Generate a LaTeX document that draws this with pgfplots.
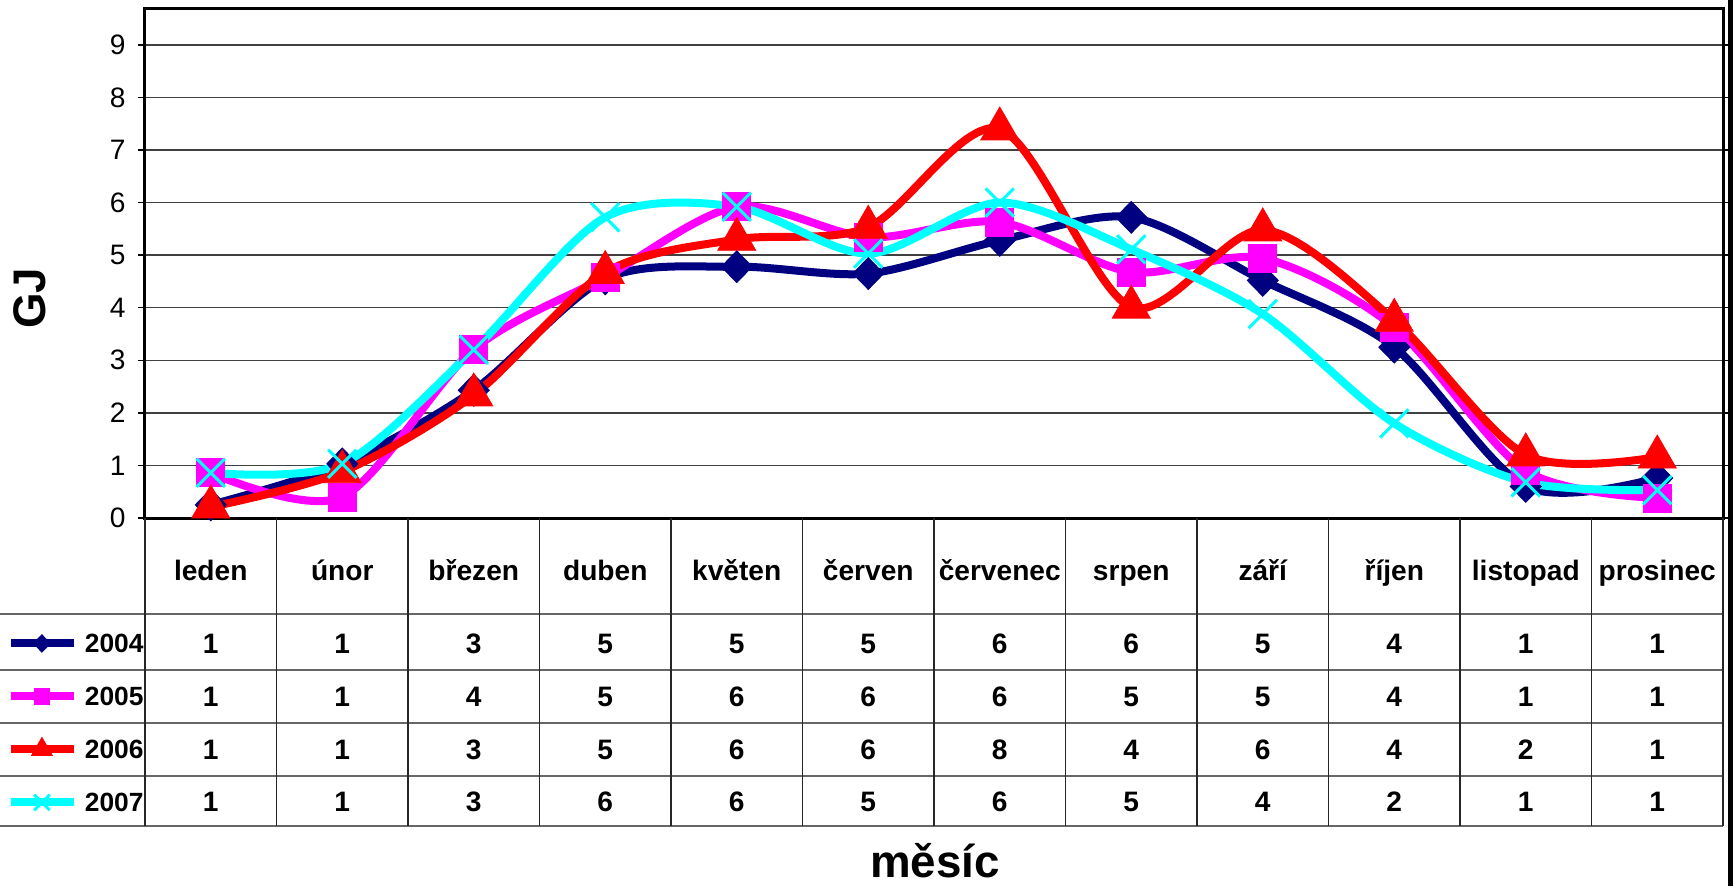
\documentclass[border=0pt]{standalone}
\usepackage{fontspec}
\setmainfont{Liberation Sans}
\usepackage{pgfplots}
\usepackage{pgfplotstable}
\pgfplotsset{compat=1.18}

\definecolor{c2004}{RGB}{0,0,128}
\definecolor{c2005}{RGB}{255,0,255}
\definecolor{c2006}{RGB}{255,0,0}
\definecolor{c2007}{RGB}{0,255,255}

% month index, GJ per year
\pgfplotstableread{
m  y2004 y2005 y2006 y2007
0  0.25  0.86  0.21  0.86
1  1.03  0.40  0.88  1.03
2  2.43  3.21  2.34  3.20
3  4.55  4.58  4.67  5.72
4  4.78  5.92  5.30  5.92
5  4.65  5.34  5.53  5.03
6  5.28  5.63  7.40  6.00
7  5.72  4.68  4.01  5.11
8  4.52  4.94  5.48  3.88
9  3.25  3.63  3.76  1.80
10 0.60  0.90  1.20  0.68
11 0.76  0.38  1.16  0.53
}\gjdata

\begin{document}
\begin{tikzpicture}
\useasboundingbox (0,0) rectangle (173.3mm,-88.6mm);
\begin{axis}[
    at={(14.5mm,-51.8mm)}, anchor=south west,
    scale only axis, width=157.8mm, height=51mm,
    xmin=-0.5, xmax=11.5, ymin=0, ymax=9.7,
    xtick={0,...,11},
    xticklabels={leden,únor,březen,duben,květen,červen,červenec,srpen,září,říjen,listopad,prosinec},
    x tick style={draw=none},
    xticklabel style={font=\bfseries\fontsize{8}{9}\selectfont, anchor=base, yshift=-5.5mm},
    ytick={0,...,9},
    yticklabel style={font=\fontsize{8}{9}\selectfont},
    /pgf/number format/assume math mode=true,
    tick align=outside, major tick length=0.7mm,
    y tick style={black, line width=0.15mm},
    ymajorgrids, grid style={black!75, line width=0.15mm},
    axis line style={black, line width=0.3mm},
    ylabel={GJ},
    ylabel style={at={(axis description cs:-0.0729,0.431)}, anchor=center,
        font=\bfseries\fontsize{13}{14}\selectfont},
    xlabel={měsíc},
    xlabel style={at={(axis description cs:0.5006,-0.704)}, anchor=base,
        inner sep=0pt, font=\bfseries\fontsize{13}{14}\selectfont},
    legend style={at={(axis description cs:-0.0875,-0.194)}, anchor=north west,
        draw=none, fill=none, inner sep=0pt, outer sep=0pt, row sep=0pt,
        font=\bfseries\fontsize{7.5}{9}\selectfont,
        nodes={inner sep=0pt, text height=3.55mm, text depth=1.75mm},
        /tikz/every odd column/.append style={column sep=0.7mm}},
    legend cell align=left,
    legend image code/.code={
        \draw[mark repeat=2, mark phase=2, #1, every mark/.append style={scale=0.55}]
            plot coordinates {(0mm,0mm) (3.1mm,0mm) (6.3mm,0mm)};},
    every axis plot/.append style={smooth, line width=0.8mm},
]
\addplot[c2004, mark=diamond*, mark size=1.6mm,
    mark options={solid, line width=0.2pt, xscale=1.3}] table[x=m, y=y2004] {\gjdata};
\addplot[c2005, mark=square*, mark size=1.4mm,
    mark options={solid, line width=0.2pt}] table[x=m, y=y2005] {\gjdata};
\addplot[c2006, mark=triangle*, mark size=2.2mm,
    mark options={solid, line width=0.2pt}] table[x=m, y=y2006] {\gjdata};
\addplot[c2007, mark=x, mark size=2mm,
    mark options={solid, line width=0.3mm}] table[x=m, y=y2007] {\gjdata};
\legend{2004,2005,2006,2007}
\end{axis}

% data table under the plot
\begin{scope}[x=0.1mm, y=-0.1mm]
  \foreach \yy in {614,670,723,776,826}
    \draw[black!60, line width=0.2mm] (0,\yy) -- (1723,\yy);
  \foreach \i in {0,...,12}
    \draw[black!85, line width=0.15mm] ({145+131.5*\i},518) -- ({145+131.5*\i},826);
  \fill[black] (1728,0) rectangle (1733,886);
  \foreach \yb/\vals in {653/{1,1,3,5,5,5,6,6,5,4,1,1},
                         706/{1,1,4,5,6,6,6,5,5,4,1,1},
                         759/{1,1,3,5,6,6,8,4,6,4,2,1},
                         811/{1,1,3,6,6,5,6,5,4,2,1,1}} {
    \foreach \v [count=\i from 0] in \vals
      \node[anchor=base, font=\bfseries\fontsize{8}{9}\selectfont]
        at ({145+131.5*(\i+0.5)},\yb) {\v};
  }
\end{scope}
\end{tikzpicture}
\end{document}
